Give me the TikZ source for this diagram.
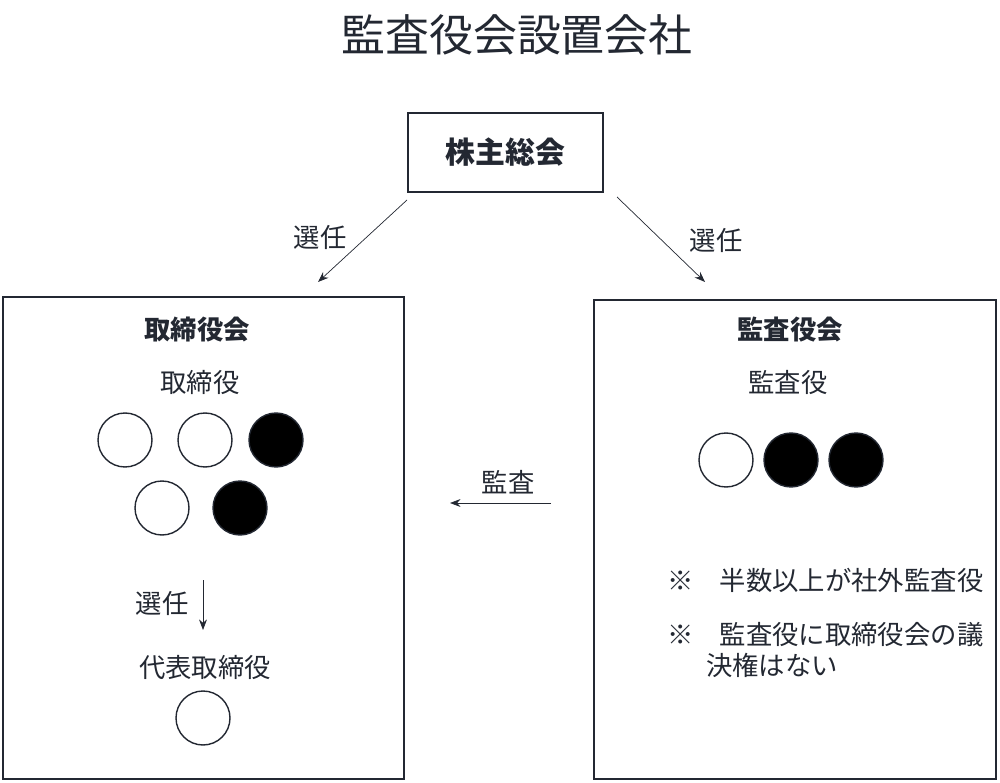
\documentclass[tikz,border=0pt]{standalone}
\usepackage{fontspec}
\setmainfont{Noto Sans CJK JP}
\usepackage{tikz}
\usetikzlibrary{arrows.meta,positioning}
\definecolor{ink}{RGB}{35,40,50}
\tikzset{
  box/.style={draw=ink, thick, minimum width=#1*0.02cm, inner sep=0pt},
  lbl/.style={font=\fontsize{15}{18}\selectfont, text=ink, inner sep=1pt},
  head/.style={font=\fontsize{15}{18}\selectfont\bfseries, text=ink},
  seat/.style={circle, draw=ink, thick, minimum size=1.08cm, inner sep=0pt, fill=white},
  outside/.style={seat, fill=black},
  link/.style={-{Stealth[length=6pt]}, ink}
}
\begin{document}
\begin{tikzpicture}[x=0.02cm, y=-0.02cm]
\useasboundingbox (0,0) rectangle (1000,783);

\node[font=\fontsize{25}{30}\selectfont, text=ink] (title) at (517,35) {監査役会設置会社};

% meeting of shareholders
\node[draw=ink, thick, minimum width=3.9cm, minimum height=1.58cm,
      font=\fontsize{17}{20}\selectfont\bfseries, text=ink] (gm) at (505.5,152.5) {株主総会};

% board of directors
\draw[ink, thick] (3,297) rectangle (404,779);
\node[head] (bd) at (197,330) {取締役会};
\node[lbl] (dirs) at (200,383) {取締役};
\node[seat] (d1) at (125,440) {};
\node[seat] (d2) at (205,440) {};
\node[outside] (d3) at (276,440) {};
\node[seat] (d4) at (162,508) {};
\node[outside] (d5) at (240,508) {};
\coordinate (sa) at (203,580);
\coordinate (sb) at (203,630);
\draw[link] (sa) -- (sb);
\node[lbl] (sel3) at (162,603) {選任};
\node[lbl] (rep) at (205,668) {代表取締役};
\node[seat] (r1) at (203,718) {};

% board of auditors
\draw[ink, thick] (594,300) rectangle (996,779);
\node[head] (ab) at (790,330) {監査役会};
\node[lbl] (auds) at (788,383) {監査役};
\node[seat] (a1) at (726,460) {};
\node[outside] (a2) at (791,460) {};
\node[outside] (a3) at (856,460) {};
\node[lbl, anchor=west] (n1) at (665,580) {※\quad 半数以上が社外監査役};
\node[lbl, anchor=west] (n2) at (665,635) {※\quad 監査役に取締役会の議};
\node[lbl, anchor=west] (n3) at (704,665) {決権はない};

% connectors
\coordinate (gl) at (407,200);
\coordinate (bl) at (318,282);
\coordinate (gr) at (617,197);
\coordinate (br) at (705,282);
\draw[link] (gl) -- (bl);
\draw[link] (gr) -- (br);
\node[lbl] (sel1) at (320,237) {選任};
\node[lbl] (sel2) at (716,240) {選任};
\coordinate (ma) at (551,503);
\coordinate (mb) at (450,503);
\draw[link] (ma) -- (mb);
\node[lbl] (audit) at (508,482) {監査};
\end{tikzpicture}
\end{document}
